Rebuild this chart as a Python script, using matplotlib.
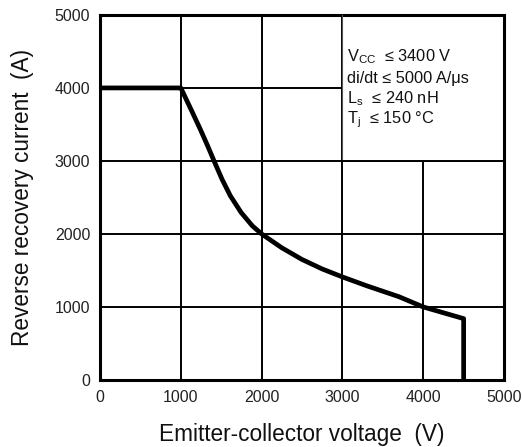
import matplotlib
matplotlib.use('Agg')
import matplotlib.pyplot as plt
from matplotlib.patches import Rectangle

plt.rcParams['font.family'] = ['Liberation Sans', 'DejaVu Sans']
plt.rcParams['mathtext.fontset'] = 'custom'
plt.rcParams['mathtext.rm'] = 'Liberation Sans'
plt.rcParams['mathtext.it'] = 'Liberation Sans'

# reverse bias safe operating area of the diode
voltage = [0, 1000, 1146, 1242, 1333, 1408, 1510, 1613, 1746, 1884, 2000,
           2250, 2500, 2750, 3000, 3300, 3700, 4000, 4500, 4500]
current = [4000, 4000, 3659, 3431, 3204, 3008, 2749, 2522, 2294, 2112, 2000,
           1810, 1650, 1520, 1411, 1290, 1140, 1000, 840, 0]

ticks = [0, 1000, 2000, 3000, 4000, 5000]
cond_lines = [r'V$_{\rm CC}$  ≤ 3400 V', 'di/dt ≤ 5000 A/μs',
              r'L$_{\rm s}$  ≤ 240 nH', r'T$_{\rm j}$  ≤ 150 °C']

fig = plt.figure(figsize=(5.22, 4.47), dpi=100)
ax = fig.add_axes([0.1916, 0.15, 0.774, 0.8166])
ax.set_xlim(0, 5000)
ax.set_ylim(0, 5000)
ax.set_xticks(ticks)
ax.set_yticks(ticks)
ax.tick_params(length=0, labelsize=11.5, pad=7, labelcolor='#222222')
ax.grid(color='black', linewidth=1.4, zorder=1)
for s in ax.spines.values():
    s.set_linewidth(2.2)

# white box for the test conditions, over the grid
ax.add_patch(Rectangle((3000, 3000), 2000, 2000, facecolor='white',
                       edgecolor='none', zorder=2))
ax.plot([3000, 3000], [3000, 5000], color='#555555', linewidth=0.8, zorder=3)
ax.plot([3000, 5000], [3000, 3000], color='black', linewidth=1.4, zorder=3)

ax.plot(voltage, current, color='black', linewidth=3.4, zorder=4,
        solid_joinstyle='round')

ys = [4430, 4130, 3850, 3570]
for t, y in zip(cond_lines, ys):
    ax.text(3060, y, t, fontsize=11.8, va='center', ha='left', zorder=5,
            color='#111111')

ax.set_xlabel('Emitter-collector voltage  (V)', fontsize=16.3, labelpad=13,
              color='#111111')
ax.set_ylabel('Reverse recovery current  (A)', fontsize=16.3, labelpad=15,
              color='#111111')

fig.savefig('out.png', dpi=100)
